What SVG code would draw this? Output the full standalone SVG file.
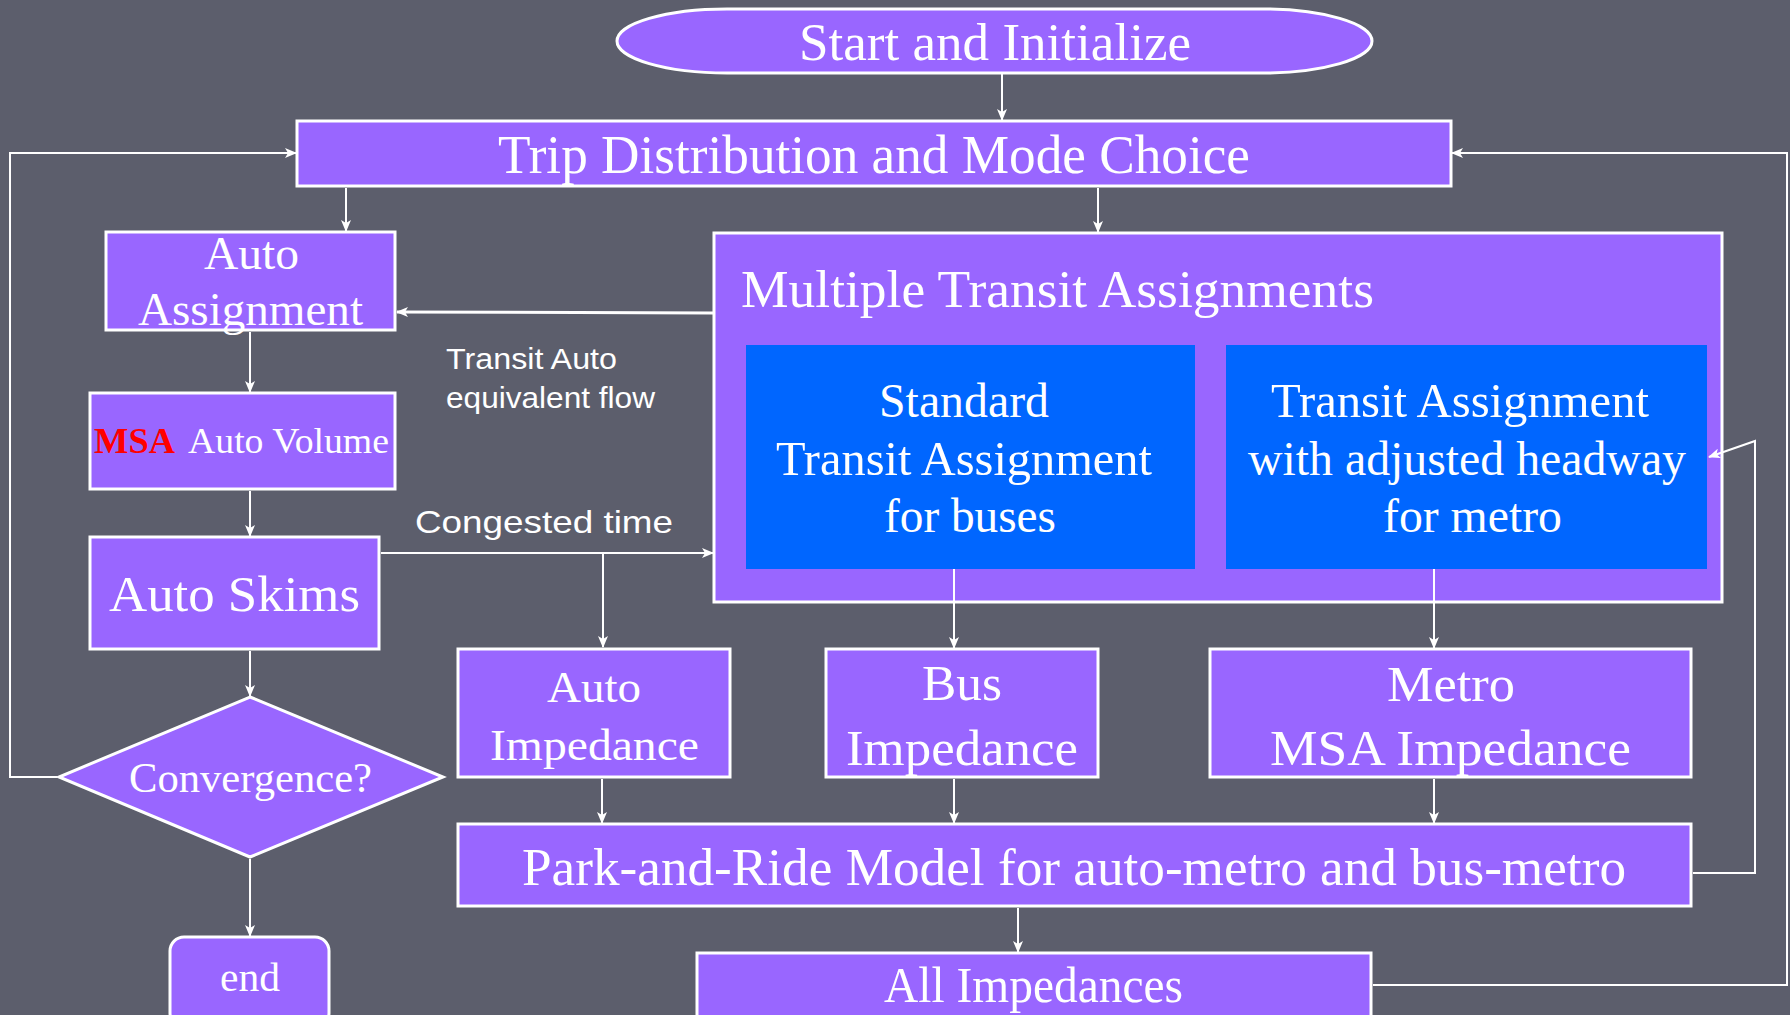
<svg xmlns="http://www.w3.org/2000/svg" width="1790" height="1015" viewBox="0 0 1790 1015">
<defs>
<style>
.bg{fill:#5c5e6c}
.box{fill:#9966ff;stroke:#ffffff;stroke-width:3}
.blue{fill:#0066ff}
.t{font-family:"Liberation Serif","Times New Roman",serif;fill:#ffffff}
.s{font-family:"Liberation Sans",Arial,sans-serif;fill:#ffffff}
.c{fill:none;stroke:#ffffff;stroke-width:2}
</style>
<marker id="ah" markerWidth="12" markerHeight="10" refX="11" refY="5" orient="auto" markerUnits="userSpaceOnUse">
<path d="M0,0 L12,5 L0,10 L3,5 Z" fill="#ffffff"/>
</marker>
</defs>
<rect class="bg" x="0" y="0" width="1790" height="1015"/>

<g id="start">
<path class="box" d="M727,9 L1262,9 A110,32 0 0 1 1262,73 L727,73 A110,32 0 0 1 727,9 Z"/>
<text class="t" x="799" y="60" font-size="52" textLength="392" lengthAdjust="spacingAndGlyphs">Start and Initialize</text>
</g>
<g id="trip">
<rect class="box" x="297" y="121" width="1154" height="65"/>
<text class="t" x="498" y="173" font-size="54" textLength="752" lengthAdjust="spacingAndGlyphs">Trip Distribution and Mode Choice</text>
</g>
<g id="auto-assignment">
<rect class="box" x="106" y="232" width="289" height="98"/>
<text class="t" x="204" y="269" font-size="46" textLength="95" lengthAdjust="spacingAndGlyphs">Auto</text>
<text class="t" x="138" y="325" font-size="46" textLength="225" lengthAdjust="spacingAndGlyphs">Assignment</text>
</g>
<g id="multiple-transit">
<rect class="box" x="714" y="233" width="1008" height="369"/>
<text class="t" x="741" y="307" font-size="52" textLength="633" lengthAdjust="spacingAndGlyphs">Multiple Transit Assignments</text>
</g>
<g id="standard-transit">
<rect class="blue" x="746" y="345" width="449" height="224"/>
<text class="t" x="879" y="417" font-size="48" textLength="170" lengthAdjust="spacingAndGlyphs">Standard</text>
<text class="t" x="776" y="475" font-size="48" textLength="376" lengthAdjust="spacingAndGlyphs">Transit Assignment</text>
<text class="t" x="884" y="532" font-size="48" textLength="172" lengthAdjust="spacingAndGlyphs">for buses</text>
</g>
<g id="metro-transit">
<rect class="blue" x="1226" y="345" width="481" height="224"/>
<text class="t" x="1271" y="417" font-size="48" textLength="378" lengthAdjust="spacingAndGlyphs">Transit Assignment</text>
<text class="t" x="1248" y="475" font-size="48" textLength="438" lengthAdjust="spacingAndGlyphs">with adjusted headway</text>
<text class="t" x="1383" y="532" font-size="48" textLength="179" lengthAdjust="spacingAndGlyphs">for metro</text>
</g>
<g id="msa-auto-volume">
<rect class="box" x="90" y="393" width="305" height="96"/>
<text class="t" x="94" y="453" font-size="35" font-weight="bold" style="fill:#ff0000" textLength="81" lengthAdjust="spacingAndGlyphs">MSA</text>
<text class="t" x="188" y="453" font-size="35" textLength="201" lengthAdjust="spacingAndGlyphs">Auto Volume</text>
</g>
<g id="label-transit-auto">
<text class="s" x="446" y="369" font-size="29" textLength="171" lengthAdjust="spacingAndGlyphs">Transit Auto</text>
<text class="s" x="446" y="408" font-size="29" textLength="209" lengthAdjust="spacingAndGlyphs">equivalent flow</text>
</g>
<g id="label-congested">
<text class="s" x="415" y="533" font-size="32" textLength="258" lengthAdjust="spacingAndGlyphs">Congested time</text>
</g>
<g id="auto-skims">
<rect class="box" x="90" y="537" width="289" height="112"/>
<text class="t" x="109" y="611" font-size="50" textLength="251" lengthAdjust="spacingAndGlyphs">Auto Skims</text>
</g>
<g id="convergence">
<polygon class="box" points="250,697 443,777 250,857 59,777"/>
<text class="t" x="129" y="792" font-size="42" textLength="243" lengthAdjust="spacingAndGlyphs">Convergence?</text>
</g>
<g id="end">
<rect class="box" x="170" y="937" width="159" height="90" rx="14"/>
<text class="t" x="220" y="991" font-size="40" textLength="60" lengthAdjust="spacingAndGlyphs">end</text>
</g>
<g id="auto-impedance">
<rect class="box" x="458" y="649" width="272" height="128"/>
<text class="t" x="547" y="702" font-size="45" textLength="94" lengthAdjust="spacingAndGlyphs">Auto</text>
<text class="t" x="490" y="760" font-size="45" textLength="209" lengthAdjust="spacingAndGlyphs">Impedance</text>
</g>
<g id="bus-impedance">
<rect class="box" x="826" y="649" width="272" height="128"/>
<text class="t" x="922" y="700" font-size="50" textLength="80" lengthAdjust="spacingAndGlyphs">Bus</text>
<text class="t" x="846" y="765" font-size="50" textLength="232" lengthAdjust="spacingAndGlyphs">Impedance</text>
</g>
<g id="metro-impedance">
<rect class="box" x="1210" y="649" width="481" height="128"/>
<text class="t" x="1387" y="701" font-size="50" textLength="128" lengthAdjust="spacingAndGlyphs">Metro</text>
<text class="t" x="1270" y="765" font-size="50" textLength="361" lengthAdjust="spacingAndGlyphs">MSA Impedance</text>
</g>
<g id="park-and-ride">
<rect class="box" x="458" y="824" width="1233" height="82"/>
<text class="t" x="522" y="885" font-size="52" textLength="1104" lengthAdjust="spacingAndGlyphs">Park-and-Ride Model for auto-metro and bus-metro</text>
</g>
<g id="all-impedances">
<rect class="box" x="697" y="953" width="674" height="80"/>
<text class="t" x="884" y="1002" font-size="50" textLength="299" lengthAdjust="spacingAndGlyphs">All Impedances</text>
</g>

<g id="connectors">
<line class="c" x1="1002" y1="74" x2="1002" y2="120" marker-end="url(#ah)"/>
<line class="c" x1="346" y1="188" x2="346" y2="231" marker-end="url(#ah)"/>
<line class="c" x1="1098" y1="188" x2="1098" y2="232" marker-end="url(#ah)"/>
<line class="c" style="stroke-width:3" x1="713" y1="313" x2="397" y2="312" marker-end="url(#ah)"/>
<line class="c" x1="250" y1="332" x2="250" y2="392" marker-end="url(#ah)"/>
<line class="c" x1="250" y1="491" x2="250" y2="536" marker-end="url(#ah)"/>
<line class="c" x1="381" y1="553" x2="713" y2="553" marker-end="url(#ah)"/>
<line class="c" x1="603" y1="553" x2="603" y2="647" marker-end="url(#ah)"/>
<line class="c" x1="954" y1="569" x2="954" y2="648" marker-end="url(#ah)"/>
<line class="c" x1="1434" y1="569" x2="1434" y2="648" marker-end="url(#ah)"/>
<line class="c" x1="250" y1="651" x2="250" y2="696" marker-end="url(#ah)"/>
<line class="c" x1="250" y1="859" x2="250" y2="936" marker-end="url(#ah)"/>
<line class="c" x1="602" y1="779" x2="602" y2="823" marker-end="url(#ah)"/>
<line class="c" x1="954" y1="779" x2="954" y2="823" marker-end="url(#ah)"/>
<line class="c" x1="1434" y1="779" x2="1434" y2="823" marker-end="url(#ah)"/>
<line class="c" x1="1018" y1="908" x2="1018" y2="952" marker-end="url(#ah)"/>
<polyline class="c" points="57,777 10,777 10,153 296,153" marker-end="url(#ah)"/>
<polyline class="c" points="1373,985 1787,985 1787,153 1452,153" marker-end="url(#ah)"/>
<polyline class="c" points="1693,873 1755,873 1755,441 1709,457" marker-end="url(#ah)"/>
</g>
</svg>
